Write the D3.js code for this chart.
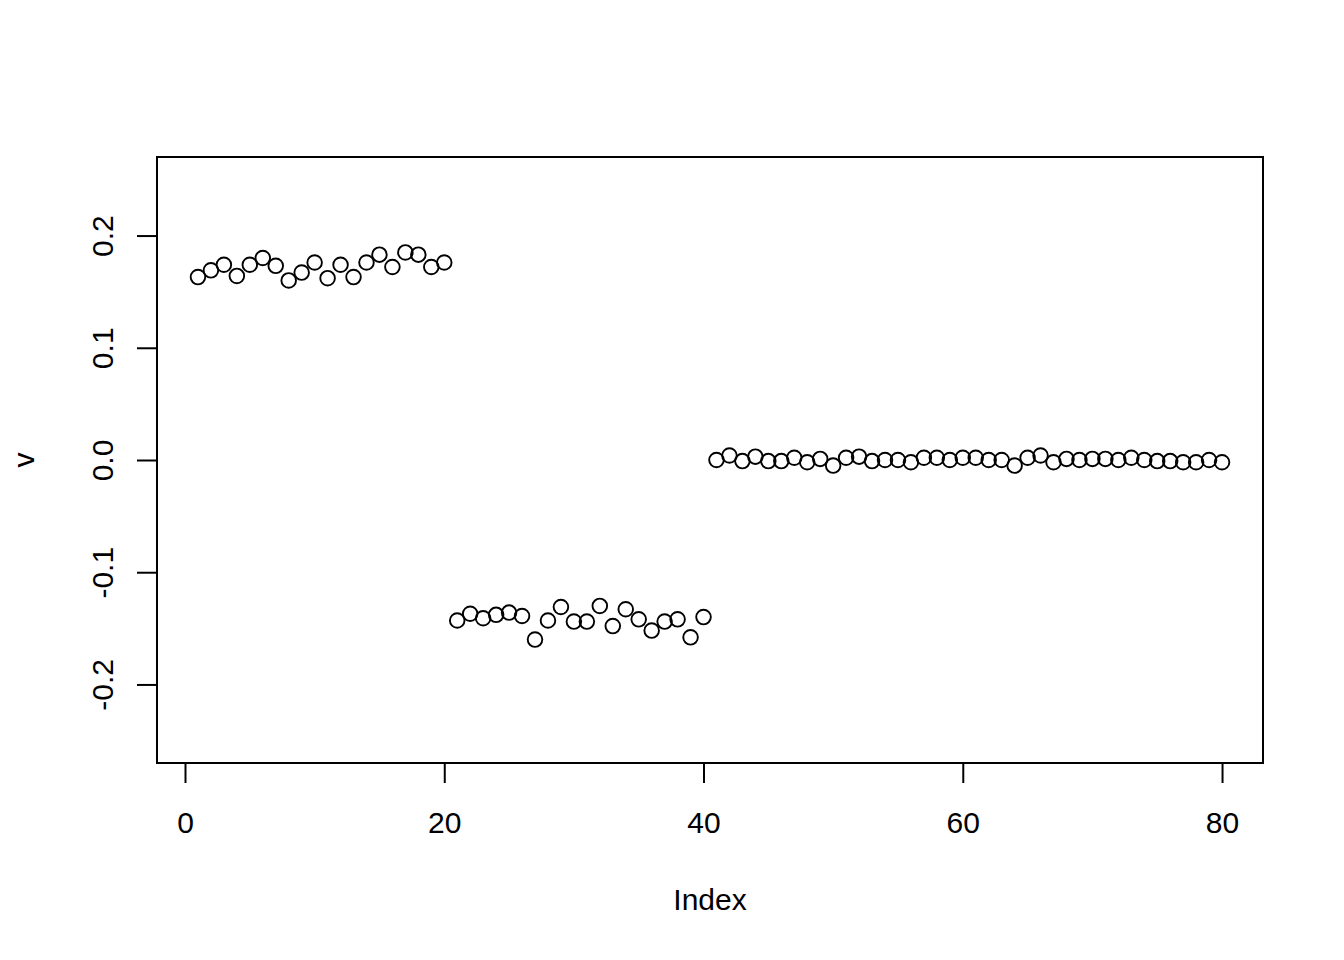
<!DOCTYPE html>
<html>
<head>
<meta charset="utf-8">
<script src="https://cdn.jsdelivr.net/npm/d3@7"></script>
<style>
  body { margin: 0; background: #fff; }
  text { font-family: "Liberation Sans", Arial, sans-serif; fill: #000; }
</style>
</head>
<body>
<svg id="chart"></svg>
<script>
// values, one per index 1..80
const groupA = [0.163, 0.169, 0.174, 0.164, 0.174, 0.180, 0.173, 0.160, 0.167, 0.176,
                0.162, 0.174, 0.163, 0.176, 0.183, 0.172, 0.185, 0.183, 0.172, 0.176];
const groupB = [-0.143, -0.137, -0.141, -0.138, -0.136, -0.139, -0.160, -0.143, -0.131, -0.144,
                -0.144, -0.130, -0.148, -0.133, -0.142, -0.152, -0.144, -0.142, -0.158, -0.140];
const groupC = [0.000, 0.004, -0.001, 0.003, -0.001, -0.001, 0.002, -0.002, 0.001, -0.005,
                0.002, 0.003, -0.001, 0.000, 0.000, -0.002, 0.002, 0.002, 0.000, 0.002,
                0.002, 0.000, 0.000, -0.005, 0.002, 0.004, -0.002, 0.001, 0.000, 0.001,
                0.001, 0.000, 0.002, 0.000, -0.001, -0.001, -0.002, -0.002, 0.000, -0.002];
const xTicks = [0, 20, 40, 60, 80];
const yTicks = [-0.2, -0.1, 0.0, 0.1, 0.2];
const yLim = [-0.25, 0.25];

const v = groupA.concat(groupB, groupC);
const data = v.map((d, i) => ({ index: i + 1, v: d }));

const config = {
  width: 1344,
  height: 960,
  margin: { top: 157, right: 81, bottom: 197, left: 157 },
  fontSize: 30
};
const w = config.width - config.margin.left - config.margin.right;
const h = config.height - config.margin.top - config.margin.bottom;

// R-style 4% padding on both axes
const xr = [1, v.length];
const xPad = (xr[1] - xr[0]) * 0.04;
const yPad = (yLim[1] - yLim[0]) * 0.04;

const xScale = d3.scaleLinear().domain([xr[0] - xPad, xr[1] + xPad]).range([0, w]);
const yScale = d3.scaleLinear().domain([yLim[0] - yPad, yLim[1] + yPad]).range([h, 0]);

// R prints a plain hyphen for negatives
const fmtY = d => d3.format(".1f")(d).replace("\u2212", "-");

const svg = d3.select("#chart")
  .attr("width", config.width)
  .attr("height", config.height);

const chart = svg.append("g")
  .attr("transform", `translate(${config.margin.left},${config.margin.top})`);

// axes
const xAxis = d3.axisBottom(xScale).tickValues(xTicks).tickSize(20)
  .tickFormat(d3.format("d"));
const xAxisGroup = chart.append("g")
  .attr("transform", `translate(0,${h})`)
  .call(xAxis);
xAxisGroup.select(".domain")
  .attr("d", `M${xScale(xTicks[0])},0H${xScale(xTicks[xTicks.length - 1])}`);

const yAxis = d3.axisLeft(yScale).tickValues(yTicks).tickSize(20)
  .tickFormat(fmtY);
const yAxisGroup = chart.append("g").call(yAxis);
yAxisGroup.select(".domain")
  .attr("d", `M0,${yScale(yTicks[0])}V${yScale(yTicks[yTicks.length - 1])}`);

[xAxisGroup, yAxisGroup].forEach(g => {
  g.selectAll("line, path").attr("stroke", "#000").attr("stroke-width", 2);
  g.selectAll("text")
    .attr("font-size", config.fontSize)
    .attr("font-family", "Liberation Sans, Arial, sans-serif")
    .attr("fill", "#000");
});
xAxisGroup.selectAll(".tick text").attr("dy", 0).attr("y", 70);

// rotated y tick labels (R las=0)
yAxisGroup.selectAll(".tick text")
  .attr("x", 0).attr("y", 0).attr("dy", 0)
  .attr("text-anchor", "middle")
  .attr("transform", "translate(-44,0) rotate(-90)");

// box
chart.append("rect")
  .attr("width", w).attr("height", h)
  .attr("fill", "none").attr("stroke", "#000").attr("stroke-width", 2);

// points
chart.selectAll(".pt")
  .data(data)
  .join("circle")
  .attr("class", "pt")
  .attr("cx", d => xScale(d.index))
  .attr("cy", d => yScale(d.v))
  .attr("r", 7.3)
  .attr("fill", "none")
  .attr("stroke", "#000")
  .attr("stroke-width", 1.9);

// axis labels
svg.append("text")
  .attr("x", config.margin.left + w / 2)
  .attr("y", 910)
  .attr("text-anchor", "middle")
  .attr("font-size", config.fontSize)
  .text("Index");

svg.append("text")
  .attr("transform", `translate(34,${config.margin.top + h / 2}) rotate(-90)`)
  .attr("text-anchor", "middle")
  .attr("font-size", config.fontSize)
  .text("v");
</script>
</body>
</html>
